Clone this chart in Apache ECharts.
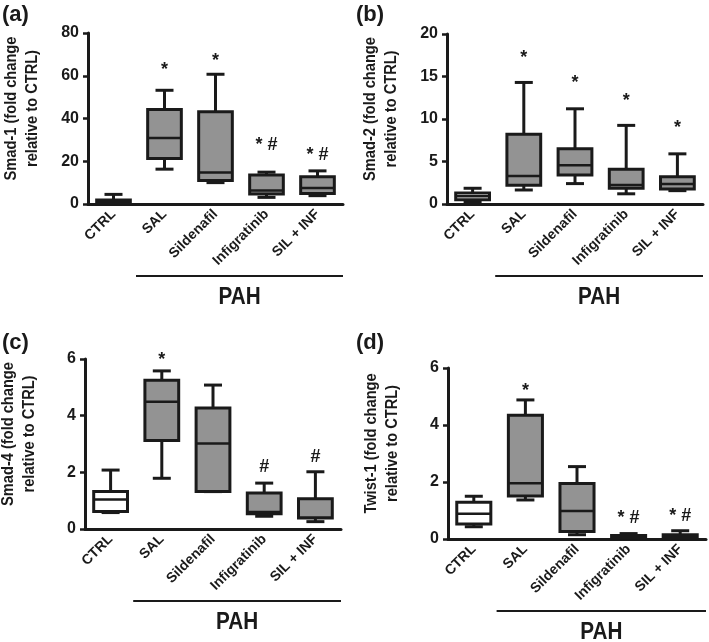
<!DOCTYPE html>
<html>
<head>
<meta charset="utf-8">
<script src="https://cdn.jsdelivr.net/npm/echarts@6/dist/echarts.min.js"></script>
<style>
  html, body { margin: 0; padding: 0; background: #fff; }
  #main { width: 709px; height: 642px; }
</style>
</head>
<body>
<div id="main"></div>
<script>
var dom = document.getElementById('main');
var myChart = echarts.init(dom);

var FONT = '"Liberation Sans", Arial, sans-serif';
var INK = '#1a1a1a';
var GRAY = '#939393';

// groups
var categories = ['CTRL', 'SAL', 'Sildenafil', 'Infigratinib', 'SIL + INF'];

// box stats per group: [min, q1, median, q3, max]
var smad1 = [
  [0.2, 0.4, 1.0, 1.9, 4.5],
  [16.3, 21.3, 30.9, 44.2, 53.2],
  [10.0, 11.0, 14.7, 43.1, 60.7],
  [3.1, 4.7, 6.3, 13.6, 14.9],
  [3.9, 4.9, 7.5, 12.7, 15.5]
];
var smad2 = [
  [0.25, 0.5, 0.9, 1.3, 1.85],
  [1.65, 2.2, 3.3, 8.2, 14.3],
  [2.4, 3.4, 4.55, 6.5, 11.2],
  [1.2, 1.85, 2.25, 4.1, 9.25],
  [1.57, 1.76, 2.35, 3.2, 5.9]
];
var smad4 = [
  [0.58, 0.62, 1.04, 1.32, 2.08],
  [1.79, 3.12, 4.49, 5.25, 5.58],
  [1.32, 1.32, 3.02, 4.27, 5.08],
  [0.45, 0.54, 0.6, 1.27, 1.62],
  [0.26, 0.39, 0.4, 1.07, 2.02]
];
var twist1 = [
  [0.43, 0.53, 0.89, 1.29, 1.5],
  [1.37, 1.51, 1.96, 4.34, 4.88],
  [0.15, 0.26, 0.98, 1.95, 2.54],
  [0.02, 0.04, 0.08, 0.12, 0.19],
  [0.03, 0.05, 0.1, 0.15, 0.29]
];

// significance marks and the value they sit at
var sigText1 = ['', '*', '*', '* #', '* #'];
var sigAt1 = [null, 62.5, 67, 27.5, 23];
var sigText2 = ['', '*', '*', '*', '*'];
var sigAt2 = [null, 17.2, 14.2, 12.1, 8.9];
var sigText4 = ['', '*', '', '#', '#'];
var sigAt4 = [null, 5.95, null, 2.2, 2.55];
var sigTextT = ['', '*', '', '* #', '* #'];
var sigAtT = [null, 5.2, null, 0.75, 0.82];

// y axis scales: [max, interval]
var yScale1 = [80, 20];
var yScale2 = [20, 5];
var yScale4 = [6, 2];
var yScaleT = [6, 2];

var panels = [
  { tag: '(a)', name: 'Smad-1 (fold change\nrelative to CTRL)', stats: smad1, sig: sigText1, at: sigAt1, y: yScale1,
    grid: { left: 88, top: 33, width: 255, height: 171 } },
  { tag: '(b)', name: 'Smad-2 (fold change\nrelative to CTRL)', stats: smad2, sig: sigText2, at: sigAt2, y: yScale2,
    grid: { left: 447, top: 34, width: 256, height: 170 } },
  { tag: '(c)', name: 'Smad-4 (fold change\nrelative to CTRL)', stats: smad4, sig: sigText4, at: sigAt4, y: yScale4,
    grid: { left: 85, top: 359, width: 256, height: 170 } },
  { tag: '(d)', name: 'Twist-1 (fold change\nrelative to CTRL)', stats: twist1, sig: sigTextT, at: sigAtT, y: yScaleT,
    grid: { left: 448, top: 368, width: 258, height: 171 } }
];

function renderBox(params, api) {
  var i = api.value(0);
  var pMin = api.coord([i, api.value(1)]);
  var pQ1 = api.coord([i, api.value(2)]);
  var pMed = api.coord([i, api.value(3)]);
  var pQ3 = api.coord([i, api.value(4)]);
  var pMax = api.coord([i, api.value(5)]);
  var x = pMed[0];
  var bw = api.size([1, 0])[0] * 0.66;
  var cw = 9;
  var ls = { stroke: INK, lineWidth: 3 };
  return {
    type: 'group',
    children: [
      { type: 'line', shape: { x1: x, y1: pQ3[1], x2: x, y2: pMax[1] }, style: ls },
      { type: 'line', shape: { x1: x - cw, y1: pMax[1], x2: x + cw, y2: pMax[1] }, style: ls },
      { type: 'line', shape: { x1: x, y1: pQ1[1], x2: x, y2: pMin[1] }, style: ls },
      { type: 'line', shape: { x1: x - cw, y1: pMin[1], x2: x + cw, y2: pMin[1] }, style: ls },
      { type: 'rect', shape: { x: x - bw / 2, y: pQ3[1], width: bw, height: pQ1[1] - pQ3[1] },
        style: { fill: i === 0 ? '#ffffff' : GRAY, stroke: INK, lineWidth: 3 } },
      { type: 'line', shape: { x1: x - bw / 2, y1: pMed[1], x2: x + bw / 2, y2: pMed[1] },
        style: { stroke: INK, lineWidth: 2.5 } }
    ]
  };
}

function makeSigRenderer(texts) {
  return function (params, api) {
    var i = api.value(0);
    var p = api.coord([i, api.value(1)]);
    return {
      type: 'text',
      style: {
        text: texts[i], x: p[0], y: p[1],
        textAlign: 'center', textVerticalAlign: 'middle',
        font: 'bold 18px ' + FONT, fill: INK
      }
    };
  };
}

var grids = [], xAxes = [], yAxes = [], series = [], graphics = [];

panels.forEach(function (p, k) {
  grids.push(p.grid);
  xAxes.push({
    type: 'category', gridIndex: k, data: categories,
    axisLine: { lineStyle: { color: INK, width: 3 } },
    axisTick: { show: false },
    axisLabel: { interval: 0, rotate: 45, margin: 8, color: INK, fontWeight: 'bold', fontSize: 14, fontFamily: FONT }
  });
  yAxes.push({
    type: 'value', gridIndex: k, min: 0, max: p.y[0], interval: p.y[1],
    axisLine: { show: true, lineStyle: { color: INK, width: 3 } },
    axisTick: { show: true, length: 5, lineStyle: { color: INK, width: 2.5 } },
    splitLine: { show: false },
    axisLabel: { margin: 9, color: INK, fontWeight: 'bold', fontSize: 16, fontFamily: FONT }
  });
  series.push({
    type: 'custom', xAxisIndex: k, yAxisIndex: k,
    renderItem: renderBox,
    encode: { x: 0, y: [1, 2, 3, 4, 5] },
    data: p.stats.map(function (s, i) { return [i].concat(s); })
  });
  var sigData = [];
  p.at.forEach(function (v, i) { if (v !== null) sigData.push([i, v]); });
  series.push({
    type: 'custom', xAxisIndex: k, yAxisIndex: k,
    renderItem: makeSigRenderer(p.sig),
    encode: { x: 0, y: 1 },
    data: sigData, z: 5
  });

  var g = p.grid;
  var bottom = g.top + g.height;
  var colW = g.width / categories.length;
  // panel tag
  graphics.push({ type: 'text', left: g.left > 300 ? 356 : 2, top: g.top < 100 ? 4 : 332,
    style: { text: p.tag, font: 'bold 22px ' + FONT, fill: INK } });
  // y axis name, squeezed along its length to look like the condensed original
  graphics.push({ type: 'text', x: g.left - 66, y: g.top + g.height / 2 - 10, rotation: Math.PI / 2, scaleX: 0.86,
    style: { text: p.name, font: 'bold 17px ' + FONT, fill: INK, textAlign: 'center', textVerticalAlign: 'middle', lineHeight: 21 } });
  // PAH bracket under the treated groups
  var lineY = bottom + 72;
  var x1 = g.left + colW * 1 - 3, x2 = g.left + g.width;
  graphics.push({ type: 'line', shape: { x1: x1, y1: lineY, x2: x2, y2: lineY }, style: { stroke: INK, lineWidth: 2 } });
  graphics.push({ type: 'text', x: (x1 + x2) / 2, y: lineY + 22, scaleX: 0.9,
    style: { text: 'PAH', font: 'bold 23px ' + FONT, fill: INK, textAlign: 'center', textVerticalAlign: 'middle' } });
});

var option = {
  animation: false,
  backgroundColor: '#ffffff',
  grid: grids,
  xAxis: xAxes,
  yAxis: yAxes,
  series: series,
  graphic: graphics
};
myChart.setOption(option, true);
</script>
</body>
</html>
